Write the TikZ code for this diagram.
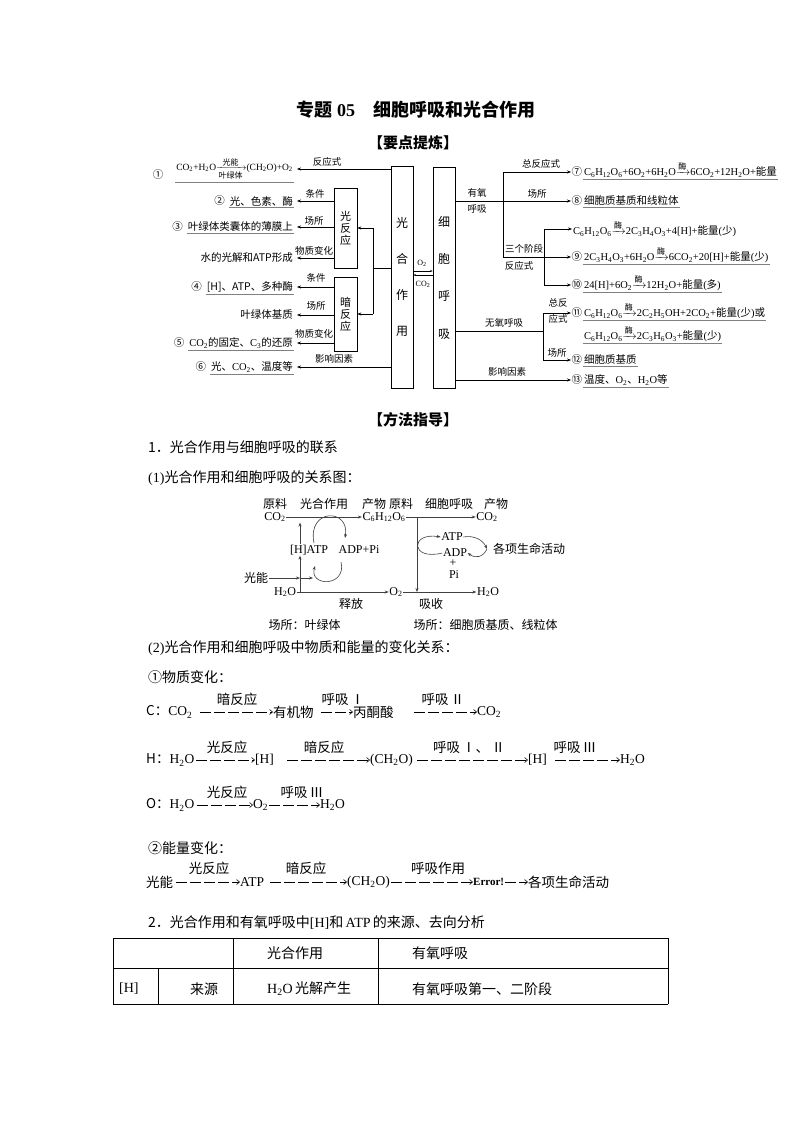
\documentclass[tikz,border=0pt]{standalone}
\usepackage{amsmath}
\usepackage{fontspec}
\setmainfont{Liberation Serif}
\newfontfamily\cj{Noto Sans CJK SC}
\usetikzlibrary{arrows.meta}
\newcommand\setfs[1]{\fontsize{#1}{#1}\selectfont}
\newcommand\zh[1]{{\cj #1}}
\newcommand\ltn[1]{{\rmfamily #1}}
\newcommand\sbs[1]{\textsubscript{#1}}
\newcommand\enz{$\xrightarrow{\mbox{\cj\setfs{8}酶}}$}
\begin{document}
\begin{tikzpicture}[x=1pt,y=-1pt,
  box/.style={draw,line width=0.7pt,inner sep=0pt,align=center},
  lab/.style={font=\cj\setfs{9.5},inner sep=0pt},
  lt/.style={font=\cj\setfs{10.5},inner xsep=4pt,inner ysep=1.5pt,anchor=east},
  num/.style={font=\cj\setfs{10.5},inner sep=0.5pt},
  rt/.style={font=\setfs{10.5},inner xsep=1pt,inner ysep=1.5pt},
  arr/.style={-{Stealth[length=4pt,width=3pt]},line width=0.55pt},
  sarr/.style={-{Stealth[length=2.5pt,width=2pt]},line width=0.5pt},
  ln/.style={line width=0.55pt},
  ul/.style={draw=black!50,line width=0.9pt},
  body/.style={font=\cj\setfs{14},anchor=west,inner sep=0pt},
  eq/.style={font=\setfs{13.5},inner sep=0pt},
  eql/.style={font=\cj\setfs{13.5},inner sep=0pt},
  darr/.style={line width=0.6pt,dash pattern=on 11pt off 3pt,-{Straight Barb[length=3pt,width=5pt]}},
  rel/.style={font=\setfs{12},inner sep=0.5pt},
  relz/.style={font=\cj\setfs{12},inner sep=0.5pt},
  rarr/.style={line width=0.6pt,draw=black!75,-{Stealth[length=4pt,width=3pt]}},
  tbl/.style={line width=0.8pt}]
\useasboundingbox (0,0) rectangle (794,1123);
\fill[white] (0,0) rectangle (794,1123);
% titles
\node[font=\cj\bfseries\setfs{18}] (title) at (416,110) {专题 \ltn{\bfseries 05}\quad 细胞呼吸和光合作用};
\node[font=\cj\bfseries\setfs{15}] (h1) at (413,143) {【要点提炼】};
% main boxes
\node[box,minimum width=22pt,minimum height=222pt,font={\cj\fontsize{12}{36}\selectfont}] (gh) at (402,277) {光\\合\\作\\用};
\node[box,minimum width=22pt,minimum height=221pt,font={\cj\fontsize{12}{37.3}\selectfont}] (hx) at (444,277.5) {细\\胞\\呼\\吸};
\node[box,minimum width=23pt,minimum height=80pt,font={\cj\fontsize{11}{12}\selectfont}] (gf) at (345.5,228) {光\\反\\应};
\node[box,minimum width=23pt,minimum height=74pt,font={\cj\fontsize{11}{12}\selectfont}] (af) at (345.5,314) {暗\\反\\应};
% bracket to sub boxes
\coordinate (br) at (373,268);
\draw[ln] (gh.west |- br) -- (br);
\draw[ln] (br |- gf.east) -- (br |- af.east);
\draw[arr] (br |- gf.east) -- (gf.east);
\draw[arr] (br |- af.east) -- (af.east);
% O2 / CO2
\node[font=\setfs{8},inner sep=0pt] (o2s) at (422,263) {O\sbs{2}};
\node[font=\setfs{8},inner sep=0pt] (co2s) at (423,284) {CO\sbs{2}};
\draw[sarr] (gh.east |- 0,271) -- (hx.west |- 0,271);
\draw[sarr] (hx.west |- 0,275) -- (gh.east |- 0,275);
% left rows
\node[lt,font=\setfs{9.5}] (r1) at (297,169) {CO\sbs{2}+H\sbs{2}O$\xrightarrow[\mbox{\cj\setfs{8}叶绿体}]{\mbox{\cj\setfs{8}光能}}$(CH\sbs{2}O)+O\sbs{2}};
\node[num] (n1) at (158,175) {①};
\draw[ul,shorten <=3pt,shorten >=3pt] (r1.south west) -- (r1.south east);
\draw[arr] (gh.west |- r1.east) -- (r1.east);
\node[lab] (l1) at (327,162) {反应式};
\node[lt] (r2) at (297,201) {光、色素、酶};
\node[num,anchor=east] (n2) at (r2.west) {②};
\draw[ul,shorten <=3pt,shorten >=3pt] (r2.south west) -- (r2.south east);
\draw[arr] (gf.west |- r2.east) -- (r2.east);
\node[lab] (l2) at (315,194) {条件};
\node[lt] (r3) at (297,227) {叶绿体类囊体的薄膜上};
\node[num,anchor=east] (n3) at (r3.west) {③};
\draw[ul,shorten <=3pt,shorten >=3pt] (r3.south west) -- (r3.south east);
\draw[arr] (gf.west |- r3.east) -- (r3.east);
\node[lab] (l3) at (314,221) {场所};
\node[lt] (r4) at (297,258) {水的光解和ATP形成};
\draw[arr] (gf.west |- r4.east) -- (r4.east);
\node[lab] (l4) at (314,251) {物质变化};
\node[lt] (r5) at (297,287) {[H]、ATP、多种酶};
\node[num,anchor=east] (n5) at (r5.west) {④};
\draw[ul,shorten <=3pt,shorten >=3pt] (r5.south west) -- (r5.south east);
\draw[arr] (af.west |- r5.east) -- (r5.east);
\node[lab] (l5) at (316,278) {条件};
\node[lt] (r6) at (297,315) {叶绿体基质};
\draw[arr] (af.west |- r6.east) -- (r6.east);
\node[lab] (l6) at (316,306) {场所};
\node[lt] (r7) at (297,343) {\ltn{CO\sbs{2}}的固定、\ltn{C\sbs{3}}的还原};
\node[num,anchor=east] (n7l) at (r7.west) {⑤};
\draw[ul,shorten <=3pt,shorten >=3pt] (r7.south west) -- (r7.south east);
\draw[arr] (af.west |- r7.east) -- (r7.east);
\node[lab] (l7) at (314,334) {物质变化};
\node[lt] (r8) at (297,367) {光、\ltn{CO\sbs{2}}、温度等};
\node[num,anchor=east] (n8l) at (r8.west) {⑥};
\draw[ul,shorten <=3pt,shorten >=3pt] (r8.south west) -- (r8.south east);
\draw[arr] (gh.west |- r8.east) -- (r8.east);
\node[lab] (l8) at (334,359) {影响因素};
% right rows
\node[num,anchor=west] (n7) at (571,172) {⑦};
\node[rt,anchor=base west] (q7) at (n7.base east) {C\sbs{6}H\sbs{12}O\sbs{6}+6O\sbs{2}+6H\sbs{2}O\enz6CO\sbs{2}+12H\sbs{2}O+\zh{能量}};
\node[num,anchor=west] (n8) at (571,201) {⑧};
\node[rt,anchor=base west,font=\cj\setfs{10.5}] (q8) at (n8.base east) {细胞质基质和线粒体};
\node[rt,anchor=west] (q6a) at (572,229) {C\sbs{6}H\sbs{12}O\sbs{6}\enz2C\sbs{3}H\sbs{4}O\sbs{3}+4[H]+\zh{能量}(\zh{少})};
\node[num,anchor=west] (n9) at (571,257) {⑨};
\node[rt,anchor=base west] (q9) at (n9.base east) {2C\sbs{3}H\sbs{4}O\sbs{3}+6H\sbs{2}O\enz6CO\sbs{2}+20[H]+\zh{能量}(\zh{少})};
\node[num,anchor=west] (n10) at (571,285) {⑩};
\node[rt,anchor=base west] (q10) at (n10.base east) {24[H]+6O\sbs{2}\enz12H\sbs{2}O+\zh{能量}(\zh{多})};
\node[num,anchor=west] (n11) at (571,313) {⑪};
\node[rt,anchor=base west] (q11) at (n11.base east) {C\sbs{6}H\sbs{12}O\sbs{6}\enz2C\sbs{2}H\sbs{5}OH+2CO\sbs{2}+\zh{能量}(\zh{少})\zh{或}};
\node[rt,anchor=base west] (q11b) at ([yshift=-23pt]q11.base west) {C\sbs{6}H\sbs{12}O\sbs{6}\enz2C\sbs{3}H\sbs{6}O\sbs{3}+\zh{能量}(\zh{少})};
\node[num,anchor=west] (n12) at (571,360) {⑫};
\node[rt,anchor=base west,font=\cj\setfs{10.5}] (q12) at (n12.base east) {细胞质基质};
\node[num,anchor=west] (n13) at (571,380) {⑬};
\node[rt,anchor=base west,font=\cj\setfs{10.5}] (q13) at (n13.base east) {温度、\ltn{O\sbs{2}}、\ltn{H\sbs{2}O}等};
\foreach \q in {q7,q8,q9,q10,q11,q11b,q12,q13}
  \draw[ul] (\q.south west) -- (\q.south east);
% right connectors
\coordinate (a1) at (503,201);
\coordinate (a2) at (544,229);
\coordinate (b1) at (543,331);
\draw[ln] (a1 |- n7.west) -- (a1 |- n9.west);
\draw[arr] (a1 |- n7.west) -- (n7.west);
\draw[arr] (hx.east |- n8.west) -- (n8.west);
\draw[arr] (a1 |- n9.west) -- (n9.west);
\draw[ln] (a2 |- q6a.west) -- (a2 |- n10.west);
\draw[arr] (a2 |- q6a.west) -- (q6a.west);
\draw[arr] (a2 |- n10.west) -- (n10.west);
\draw[ln] (hx.east |- b1) -- (b1);
\draw[ln] (b1 |- n11.west) -- (b1 |- n12.west);
\draw[arr] (b1 |- n11.west) -- (n11.west);
\draw[arr] (b1 |- n12.west) -- (n12.west);
\draw[arr] (hx.east |- n13.west) -- (n13.west);
\node[lab] (m1) at (541,164) {总反应式};
\node[lab] (m2) at (537,194) {场所};
\node[lab] (m3) at (477,193) {有氧};
\node[lab] (m4) at (477,209) {呼吸};
\node[lab] (m5) at (524,249) {三个阶段};
\node[lab] (m6) at (519,266) {反应式};
\node[lab] (m7) at (504,323) {无氧呼吸};
\node[lab] (m8) at (558,303) {总反};
\node[lab] (m9) at (558,319) {应式};
\node[lab] (m10) at (557,353) {场所};
\node[lab] (m11) at (507,372) {影响因素};
% method section
\node[font=\cj\bfseries\setfs{15}] (h2) at (413,420) {【方法指导】};
\node[body] (p1) at (148,447) {1．光合作用与细胞呼吸的联系};
\node[body] (p2) at (148,478) {\ltn{(1)}光合作用和细胞呼吸的关系图：};
% relation diagram
\node[relz] (k1) at (275,504) {原料};
\node[relz] (k2) at (324,504) {光合作用};
\node[relz] (k3) at (374,504) {产物};
\node[relz] (k4) at (401,504) {原料};
\node[relz] (k5) at (449,504) {细胞呼吸};
\node[relz] (k6) at (496,504) {产物};
\node[rel] (co2L) at (275,517) {CO\sbs{2}};
\node[rel] (c6) at (384,517) {C\sbs{6}H\sbs{12}O\sbs{6}};
\node[rel] (co2R) at (487,517) {CO\sbs{2}};
\node[rel] (hatp) at (309,550) {[H]ATP};
\node[rel] (adp) at (359,550) {ADP+Pi};
\node[relz] (gn) at (256,578) {光能};
\node[rel] (h2oL) at (285,592) {H\sbs{2}O};
\node[rel] (o2) at (396,592) {O\sbs{2}};
\node[rel] (h2oR) at (488,592) {H\sbs{2}O};
\node[rel] (atp) at (452,537) {ATP};
\node[rel] (adp2) at (455,553) {ADP};
\node[rel] (plus) at (453,563) {+};
\node[rel] (pi) at (454,575) {Pi};
\node[relz] (gx) at (529,549) {各项生命活动};
\node[relz] (sf) at (351,604) {释放};
\node[relz] (xs) at (431,604) {吸收};
\node[relz,anchor=west] (cs1) at (268,625) {场所：叶绿体};
\node[relz,anchor=west] (cs2) at (413,625) {场所：细胞质基质、线粒体};
\coordinate (vx) at (417,517);
\coordinate (lv) at (300,592);
\coordinate (gtip) at (313,578);
\coordinate (rc) at (487,549);
\draw[rarr] (co2L) -- (c6);
\draw[rarr] (c6) -- (co2R);
\draw[rarr] (vx) -- (vx |- o2.west);
\draw[rarr] (h2oL) -- (o2);
\draw[rarr] (o2) -- (h2oR);
\draw[rarr] (lv) -- (lv |- hatp.south);
\draw[rarr] (lv |- hatp.north) -- (lv |- co2L.south);
\draw[rarr] (gn) -- (lv |- gn);
\draw[rarr] ([xshift=1pt]lv |- gn) -- (gtip);
\draw[rarr] (314,543) .. controls (307,508) and (350,508) .. (345,538);
\draw[rarr] (341,562) .. controls (347,587) and (309,587) .. (315,566);
\draw[rarr] (adp2.west) .. controls (410,561) and (410,532) .. (atp.west);
\draw[rarr] (atp.east) .. controls (474,535) and (483,540) .. (rc);
\draw[rarr] (rc) .. controls (483,557) and (476,559) .. (adp2.east);
% material change
\node[body] (p3) at (148,648) {\ltn{(2)}光合作用和细胞呼吸中物质和能量的变化关系：};
\node[body] (p4) at (148,677) {①物质变化：};
% row C
\node[eql,anchor=west] (c0) at (146,712) {C：\ltn{CO\sbs{2}}};
\node[eql,anchor=west] (c1) at (273,712) {有机物};
\node[eql,anchor=west] (c2) at (353,712) {丙酮酸};
\node[eq,anchor=west] (c3) at (477,712) {CO\sbs{2}};
\draw[darr,shorten <=8pt] (c0) -- (c1);
\draw[darr,shorten <=7pt] (c1) -- (c2);
\draw[darr,shorten <=20pt] (c2) -- (c3);
\node[eql] (cl1) at (237,699) {暗反应};
\node[eql] (cl2) at (343,699) {呼吸\,Ⅰ};
\node[eql] (cl3) at (443,699) {呼吸\,Ⅱ};
% row H
\node[eql,anchor=west] (hh0) at (146,760) {H：\ltn{H\sbs{2}O}};
\node[eq,anchor=west] (hh1) at (255,760) {[H]};
\node[eq,anchor=west] (hh2) at (370,760) {(CH\sbs{2}O)};
\node[eq,anchor=west] (hh3) at (528,760) {[H]};
\node[eq,anchor=west] (hh4) at (620,760) {H\sbs{2}O};
\draw[darr,shorten <=2pt] (hh0) -- (hh1);
\draw[darr,shorten <=13pt] (hh1) -- (hh2);
\draw[darr,shorten <=4pt] (hh2) -- (hh3);
\draw[darr,shorten <=8pt] (hh3) -- (hh4);
\node[eql] (hl1) at (227,747) {光反应};
\node[eql] (hl2) at (324,747) {暗反应};
\node[eql] (hl3) at (469,747) {呼吸\,Ⅰ、\,Ⅱ};
\node[eql] (hl4) at (575,747) {呼吸\,Ⅲ};
% row O
\node[eql,anchor=west] (o0) at (146,805) {O：\ltn{H\sbs{2}O}};
\node[eq,anchor=west] (o1) at (253,805) {O\sbs{2}};
\node[eq,anchor=west] (o2r) at (320,805) {H\sbs{2}O};
\draw[darr,shorten <=2pt] (o0) -- (o1);
\draw[darr,shorten <=1pt] (o1) -- (o2r);
\node[eql] (ol1) at (227,792) {光反应};
\node[eql] (ol2) at (302,792) {呼吸\,Ⅲ};
% energy
\node[body] (p5) at (148,848) {②能量变化：};
\node[eql,anchor=west] (e0) at (146,882) {光能};
\node[eq,anchor=west] (e1) at (240,882) {ATP};
\node[eq,anchor=west] (e2) at (347,882) {(CH\sbs{2}O)};
\node[eq,anchor=west,font=\bfseries\setfs{11}] (e3) at (473,882) {Error!};
\node[eql,anchor=west] (e4) at (528,882) {各项生命活动};
\draw[darr,shorten <=3pt] (e0) -- (e1);
\draw[darr,shorten <=6pt] (e1) -- (e2);
\draw[darr,shorten <=1pt] (e2) -- (e3);
\draw[darr,shorten <=1pt] (e3) -- (e4);
\node[eql] (el1) at (209,868) {光反应};
\node[eql] (el2) at (306,868) {暗反应};
\node[eql] (el3) at (438,868) {呼吸作用};
% section 2 and table
\node[body] (p6) at (148,923) {2．光合作用和有氧呼吸中\ltn{[H]}和\,\ltn{ATP}\,的来源、去向分析};
\draw[tbl] (113,938) -- (668,938);
\draw[tbl] (113,968) -- (668,968);
\draw[tbl] (113,1004) -- (668,1004);
\draw[tbl] (113,938) -- (113,1004);
\draw[tbl] (233,938) -- (233,1004);
\draw[tbl] (378,938) -- (378,1004);
\draw[tbl] (668,938) -- (668,1004);
\draw[tbl] (158,968) -- (158,1004);
\node[body] (t1) at (267,953) {光合作用};
\node[body] (t2) at (412,953) {有氧呼吸};
\node[body] (t3) at (119,989) {\ltn{[H]}};
\node[body] (t4) at (190,989) {来源};
\node[body] (t5) at (267,989) {\ltn{H\sbs{2}O}\,光解产生};
\node[body] (t6) at (412,989) {有氧呼吸第一、二阶段};
\end{tikzpicture}
\end{document}
